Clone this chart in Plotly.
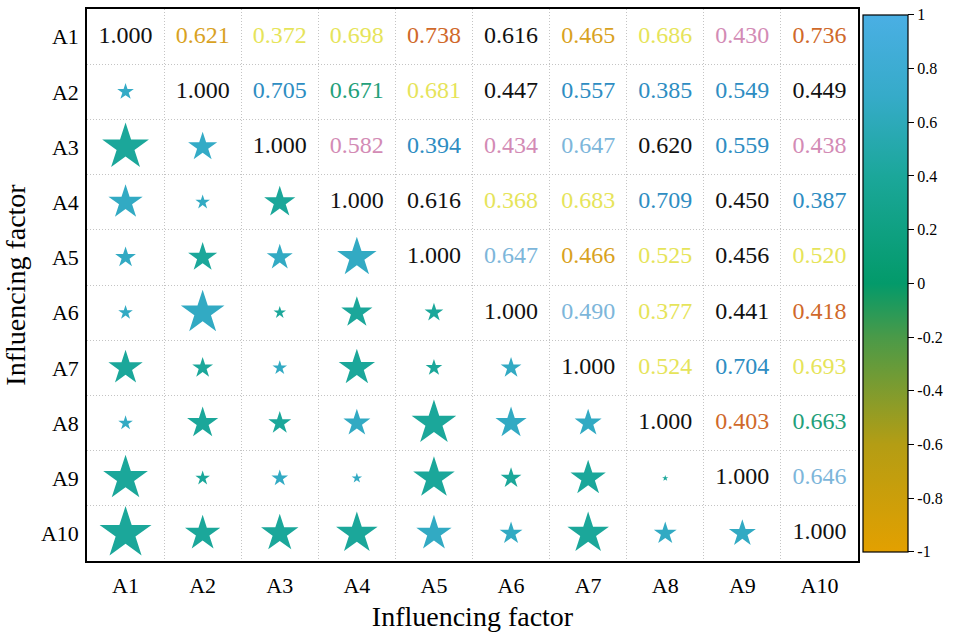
import plotly.graph_objects as go

factors = ["A1", "A2", "A3", "A4", "A5", "A6", "A7", "A8", "A9", "A10"]

# Upper triangle (row i, columns j >= i) correlation values
upper_values = [
    [1.000, 0.621, 0.372, 0.698, 0.738, 0.616, 0.465, 0.686, 0.430, 0.736],
    [1.000, 0.705, 0.671, 0.681, 0.447, 0.557, 0.385, 0.549, 0.449],
    [1.000, 0.582, 0.394, 0.434, 0.647, 0.620, 0.559, 0.438],
    [1.000, 0.616, 0.368, 0.683, 0.709, 0.450, 0.387],
    [1.000, 0.647, 0.466, 0.525, 0.456, 0.520],
    [1.000, 0.490, 0.377, 0.441, 0.418],
    [1.000, 0.524, 0.704, 0.693],
    [1.000, 0.403, 0.663],
    [1.000, 0.646],
    [1.000],
]

# Upper triangle text colour keys (style)
upper_colour_keys = [
    ["k", "gold", "yel", "yel", "org", "k", "gold", "yel", "pink", "org"],
    ["k", "blue", "green", "yel", "k", "blue", "blue", "blue", "k"],
    ["k", "pink", "blue", "pink", "lblue", "k", "blue", "pink"],
    ["k", "k", "yel", "yel", "blue", "k", "blue"],
    ["k", "lblue", "gold", "yel", "k", "yel"],
    ["k", "lblue", "yel", "k", "org"],
    ["k", "yel", "blue", "yel"],
    ["k", "org", "green"],
    ["k", "lblue"],
    ["k"],
]
palette = {
    "k": "#111111", "gold": "#D9A21F", "yel": "#E6E45A", "org": "#D0692A",
    "pink": "#D38BB5", "blue": "#2E8DC2", "green": "#23A07A", "lblue": "#7DB6DA",
}

# Lower triangle (row i, columns j < i): star colour value and star strength
lower_values = [
    [],
    [0.68],
    [0.40, 0.68],
    [0.66, 0.66, 0.40],
    [0.66, 0.40, 0.66, 0.66],
    [0.66, 0.66, 0.40, 0.40, 0.40],
    [0.40, 0.40, 0.66, 0.40, 0.40, 0.66],
    [0.66, 0.40, 0.40, 0.66, 0.40, 0.66, 0.66],
    [0.40, 0.40, 0.66, 0.66, 0.40, 0.40, 0.40, 0.40],
    [0.40, 0.40, 0.40, 0.40, 0.66, 0.66, 0.40, 0.66, 0.66],
]
lower_strength = [
    [],
    [0.32],
    [0.90, 0.56],
    [0.66, 0.28, 0.60],
    [0.40, 0.56, 0.50, 0.76],
    [0.28, 0.84, 0.24, 0.60, 0.36],
    [0.66, 0.40, 0.28, 0.70, 0.32, 0.40],
    [0.28, 0.60, 0.44, 0.52, 0.86, 0.60, 0.52],
    [0.86, 0.28, 0.32, 0.20, 0.80, 0.40, 0.68, 0.12],
    [1.00, 0.68, 0.72, 0.80, 0.68, 0.44, 0.80, 0.44, 0.52],
]

# Build trace data
tx, ty, tt, tc = [], [], [], []
for i, row in enumerate(upper_values):
    for k, v in enumerate(row):
        j = i + k
        tx.append(j + 1)
        ty.append(i + 1)
        tt.append(f"{v:.3f}")
        tc.append(palette[upper_colour_keys[i][k]])

sx, sy, sc, ss = [], [], [], []
for i, row in enumerate(lower_values):
    for j, v in enumerate(row):
        sx.append(j + 1)
        sy.append(i + 1)
        sc.append(v)
        ss.append(lower_strength[i][j] * 39)

colorscale = [
    [0.0, "#E3A000"],
    [0.2, "#B49D14"],
    [0.4, "#4A9A48"],
    [0.5, "#039A6A"],
    [0.7, "#1BA79A"],
    [0.85, "#36ABC9"],
    [1.0, "#4AAFE4"],
]

fig = go.Figure()
fig.add_trace(go.Scatter(
    x=sx, y=sy, mode="markers",
    marker=dict(symbol="star", size=ss, color=sc, colorscale=colorscale,
                cmin=-1, cmax=1, line=dict(width=0), opacity=1,
                showscale=True,
                colorbar=dict(
                    x=1.006, xanchor="left", xpad=0, ypad=0,
                    y=0.503, yanchor="middle",
                    len=0.973, lenmode="fraction", thickness=45,
                    outlinecolor="black", outlinewidth=1.2,
                    tickmode="array",
                    tickvals=[-1, -0.8, -0.6, -0.4, -0.2, 0, 0.2, 0.4, 0.6, 0.8, 1],
                    ticktext=["-1", "-0.8", "-0.6", "-0.4", "-0.2", "0", "0.2", "0.4", "0.6", "0.8", "1"],
                    ticks="outside", ticklen=6, tickcolor="black",
                    tickfont=dict(family="Liberation Serif", size=16, color="black"),
                )),
    hoverinfo="skip", showlegend=False,
))
fig.add_trace(go.Scatter(
    x=tx, y=ty, mode="text", text=tt,
    textfont=dict(family="Liberation Serif", size=24, color=tc),
    hoverinfo="skip", showlegend=False,
))

grid_vals = [k + 0.5 for k in range(11)]
axis_common = dict(
    showline=True, linecolor="black", linewidth=1.5, mirror=True,
    showgrid=False, zeroline=False, ticks="", automargin=False,
    tickfont=dict(family="Liberation Serif", size=22, color="black"),
    minor=dict(tickvals=grid_vals, showgrid=True, gridcolor="#c4c4c4",
               griddash="1px,2px", gridwidth=1, ticks=""),
)
fig.update_xaxes(range=[0.5, 10.5], tickvals=list(range(1, 11)), ticktext=factors,
                 ticklabelstandoff=4,
                 title=dict(text="Influencing factor", font=dict(family="Liberation Serif", size=28, color="black"), standoff=12),
                 **axis_common)
fig.update_yaxes(range=[10.5, 0.5], tickvals=list(range(1, 11)), ticktext=factors,
                 ticklabelstandoff=2,
                 title=dict(text="Influencing factor", font=dict(family="Liberation Serif", size=28, color="black"), standoff=10),
                 **axis_common)
fig.update_layout(
    width=960, height=632,
    margin=dict(l=87, r=102, t=9, b=71, autoexpand=False),
    plot_bgcolor="white", paper_bgcolor="white",
)
fig.write_html("out.html", config={"displayModeBar": False},
               post_script="document.body.style.margin='0';")
